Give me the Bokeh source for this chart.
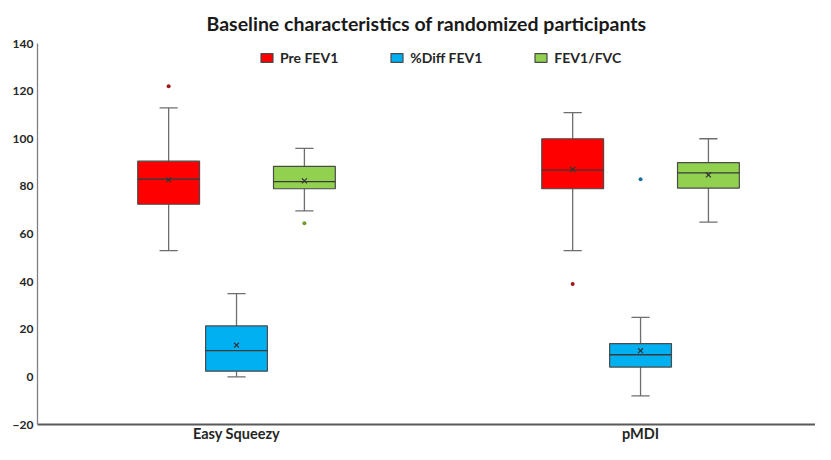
from bokeh.plotting import figure
from bokeh.models import ColumnDataSource, Range1d, FixedTicker, Legend, LegendItem
from bokeh.embed import file_html
from bokeh.resources import INLINE
import numpy as np

# ---- data ----
categories = ["Easy Squeezy", "pMDI"]
series = ["Pre FEV1", "%Diff FEV1", "FEV1/FVC"]
colors = ["#FF0000", "#00B0F0", "#92D050"]
outlier_colors = ["#A01818", "#1E6E9A", "#6E9A2A"]

# per series: values for [Easy Squeezy, pMDI]
whisker_low = {"Pre FEV1": [53, 53], "%Diff FEV1": [0, -8], "FEV1/FVC": [69.7, 65]}
q1 = {"Pre FEV1": [72.5, 79], "%Diff FEV1": [2.4, 4.1], "FEV1/FVC": [79, 79.3]}
median = {"Pre FEV1": [83, 86.8], "%Diff FEV1": [11, 9.3], "FEV1/FVC": [82, 85.7]}
q3 = {"Pre FEV1": [90.6, 100], "%Diff FEV1": [21.4, 14], "FEV1/FVC": [88.4, 90]}
whisker_high = {"Pre FEV1": [113, 111], "%Diff FEV1": [35, 25], "FEV1/FVC": [96, 100]}
mean = {"Pre FEV1": [82.7, 87.1], "%Diff FEV1": [13.3, 11], "FEV1/FVC": [82.3, 84.8]}
outlier_cat = {"Pre FEV1": [0, 1], "%Diff FEV1": [1], "FEV1/FVC": [0]}
outlier_val = {"Pre FEV1": [122, 39], "%Diff FEV1": [83], "FEV1/FVC": [64.5]}

y_ticks = [-20, 0, 20, 40, 60, 80, 100, 120, 140]
y_min, y_max = -20, 140

# ---- layout constants ----
offsets = [-0.168, 0.0, 0.168]
box_w = 0.153
cap_w = 0.045
W, H = 815, 444
B_LEFT, B_TOP, B_BOTTOM = 37, 43, 17

p = figure(width=W, height=H, output_backend="svg", toolbar_location=None,
           x_range=Range1d(-0.4926, 1.433), y_range=Range1d(y_min, y_max),
           min_border_left=B_LEFT, min_border_right=0, min_border_top=B_TOP,
           min_border_bottom=B_BOTTOM)
p.background_fill_color = "white"
p.border_fill_color = "white"
p.outline_line_color = None
p.xgrid.visible = False
p.ygrid.visible = False

legend_items = []
for i, s in enumerate(series):
    xs = np.arange(len(categories)) + offsets[i]
    src = ColumnDataSource(dict(
        x=xs, lo=whisker_low[s], q1=q1[s], med=median[s], q3=q3[s], hi=whisker_high[s],
        mean=mean[s], x0=xs - box_w / 2, x1=xs + box_w / 2,
        c0=xs - cap_w / 2, c1=xs + cap_w / 2))
    # whiskers
    p.segment(x0="x", y0="lo", x1="x", y1="q1", source=src, line_color="#6E6E6E", line_width=1.3)
    p.segment(x0="x", y0="q3", x1="x", y1="hi", source=src, line_color="#6E6E6E", line_width=1.3)
    p.segment(x0="c0", y0="lo", x1="c1", y1="lo", source=src, line_color="#6E6E6E", line_width=1.3)
    p.segment(x0="c0", y0="hi", x1="c1", y1="hi", source=src, line_color="#6E6E6E", line_width=1.3)
    # box
    r = p.vbar(x="x", width=box_w, bottom="q1", top="q3", source=src,
               fill_color=colors[i], line_color="#4A4A4A", line_width=1.2)
    legend_items.append(LegendItem(label=s, renderers=[r]))
    # median
    p.segment(x0="x0", y0="med", x1="x1", y1="med", source=src, line_color="#3A3A3A", line_width=1.3)
    # mean
    p.scatter(x="x", y="mean", source=src, marker="x", size=7, line_color="#333333", line_width=1.2)
    # outliers
    ox = np.array(outlier_cat[s]) + offsets[i]
    p.scatter(x=ox, y=outlier_val[s], marker="circle", size=4,
              fill_color=outlier_colors[i], line_color=None)

frame_h = H - B_TOP - B_BOTTOM - 7
legend = Legend(items=legend_items, orientation="horizontal", location=(222, frame_h - 19),
                label_text_font="Lato", label_text_font_style="bold", label_text_font_size="14px",
                label_text_color="#262626", glyph_width=15, glyph_height=11, label_standoff=6,
                spacing=51, padding=0, margin=0, border_line_color=None,
                background_fill_alpha=0, label_height=12)
p.add_layout(legend)

# title
p.title.text = "Baseline characteristics of randomized participants"
p.title.align = "center"
p.title.text_font = "Lato"
p.title.text_font_style = "bold"
p.title.text_font_size = "19.5px"
p.title.text_color = "#1A1A1A"
p.title.standoff = 18

# y axis
p.yaxis.ticker = FixedTicker(ticks=y_ticks)
p.yaxis.major_label_text_font = "Lato"
p.yaxis.major_label_text_font_style = "bold"
p.yaxis.major_label_text_font_size = "12px"
p.yaxis.major_label_text_color = "#262626"
p.yaxis.axis_line_color = "#808080"
p.yaxis.axis_line_width = 1.3
p.yaxis.major_tick_in = 0
p.yaxis.major_tick_out = 0
p.yaxis.minor_tick_line_color = None
p.yaxis.major_label_standoff = 4
p.yaxis.axis_label_standoff = 0

# x axis
p.xaxis.ticker = FixedTicker(ticks=[0, 1])
p.xaxis.major_label_overrides = {0: categories[0], 1: categories[1]}
p.xaxis.major_label_text_font = "Lato"
p.xaxis.major_label_text_font_style = "bold"
p.xaxis.major_label_text_font_size = "14.5px"
p.xaxis.major_label_text_color = "#262626"
p.xaxis.axis_line_color = "#595959"
p.xaxis.axis_line_width = 2
p.xaxis.major_tick_in = 0
p.xaxis.major_tick_out = 0
p.xaxis.minor_tick_line_color = None
p.xaxis.major_label_standoff = 0
p.xaxis.axis_label_standoff = 0

open("out.html", "w").write(file_html(p, INLINE))
